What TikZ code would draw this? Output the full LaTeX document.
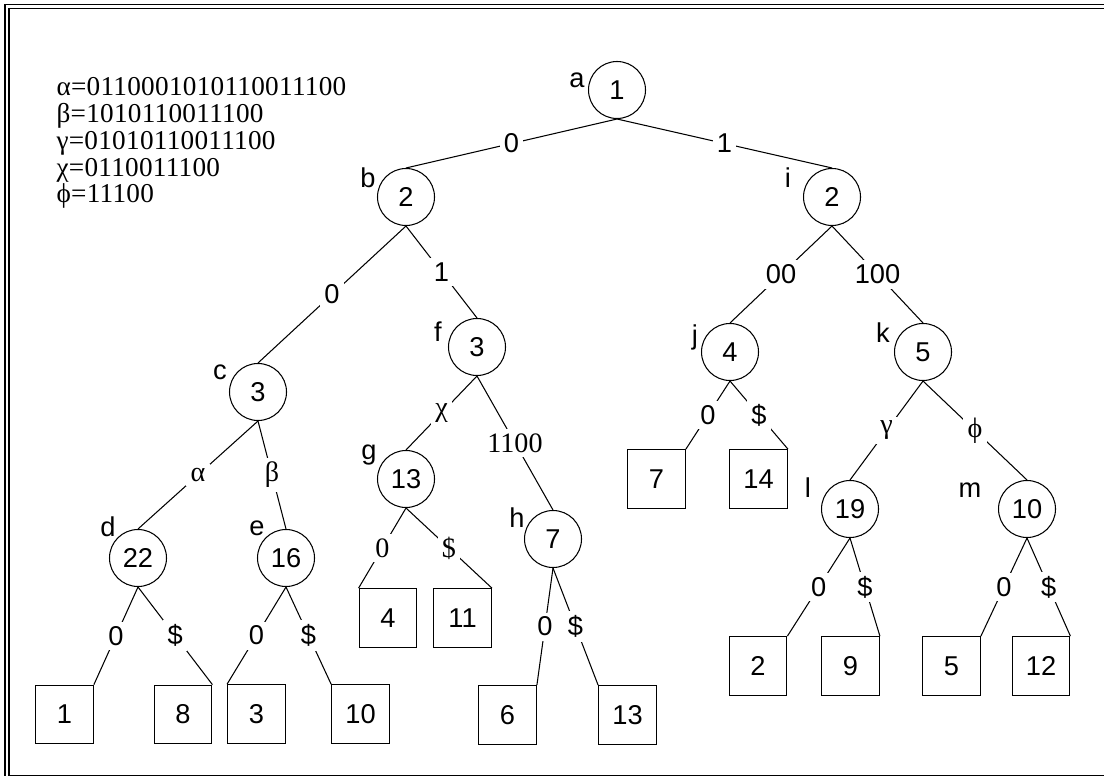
\documentclass[tikz,border=0pt]{standalone}
\usepackage{fontspec}
\newfontfamily\treefont{Liberation Sans}
\newfontfamily\serfont{Liberation Serif}
\newfontfamily\legendfont[LetterSpace=1]{Liberation Serif}

\tikzset{
  inner/.style={circle, draw, line width=0.6pt, minimum size=1.14cm, inner sep=0pt,
    font=\treefont\fontsize{15.5}{18}\selectfont},
  suf/.style={rectangle, draw, line width=0.75pt, minimum width=1.15cm, minimum height=1.17cm,
    inner sep=0pt, font=\treefont\fontsize{15.5}{18}\selectfont},
  tag/.style={inner sep=0pt, font=\treefont\fontsize{15.5}{18}\selectfont},
  lbl/.style={fill=white, inner sep=2.5pt, font=\treefont\fontsize{15.5}{18}\selectfont},
  slbl/.style={lbl, font=\serfont\fontsize{16}{18}\selectfont},
  leg/.style={anchor=base west, inner sep=0pt, font=\legendfont\fontsize{15.5}{17}\selectfont}
}

\begin{document}
\begin{tikzpicture}[x=0.02cm, y=-0.02cm, line width=0.6pt]
      \useasboundingbox (0,0) rectangle (1104,776);
      % frame
      \draw [line width=1.1pt] (5,4.5) rectangle (1120,800);
      \draw [line width=0.9pt] (9,8.5) rectangle (1112,775.5);
      % legend
      \node (legA) [leg] at (56,96) {α=0110001010110011100};
      \node (legB) [leg] at (56,123) {β=1010110011100};
      \node (legC) [leg] at (56,150) {γ=01010110011100};
      \node (legD) [leg] at (56,177) {χ=0110011100};
      \node (legE) [leg] at (56,203) {ϕ=11100};
      % internal nodes
      \node (a) [inner] at (617,90) {1};
      \node (b) [inner] at (406,197) {2};
      \node (i) [inner] at (832,197) {2};
      \node (c) [inner] at (258,392) {3};
      \node (f) [inner] at (477,347) {3};
      \node (d) [inner] at (138,558) {22};
      \node (e) [inner] at (286,558) {16};
      \node (g) [inner] at (406,479) {13};
      \node (h) [inner] at (553,539) {7};
      \node (j) [inner] at (730,352) {4};
      \node (k) [inner] at (923,352) {5};
      \node (l) [inner] at (850,509) {19};
      \node (m) [inner] at (1027,509) {10};
      % node names
      \node (ta) [tag] at (577,80) {a};
      \node (tb) [tag] at (368,178) {b};
      \node (tc) [tag] at (220,372) {c};
      \node (td) [tag] at (108,527) {d};
      \node (te) [tag] at (257,528) {e};
      \node (tf) [tag] at (438,332) {f};
      \node (tg) [tag] at (369,455) {g};
      \node (th) [tag] at (517,518) {h};
      \node (ti) [tag] at (788,178) {i};
      \node (tj) [tag] at (695,337) {j};
      \node (tk) [tag] at (883,333) {k};
      \node (tl) [tag] at (808,488) {l};
      \node (tm) [tag] at (970,490) {m};
      % leaves
      \node (L1) [suf] at (64.5,714.5) {1};
      \node (L8) [suf] at (183,714.5) {8};
      \node (L3) [suf] at (256.5,714) {3};
      \node (L10) [suf] at (360.5,714) {10};
      \node (L4) [suf] at (388,618) {4};
      \node (L11) [suf] at (462.5,618) {11};
      \node (L6) [suf] at (507.5,715) {6};
      \node (L13) [suf] at (627.5,715) {13};
      \node (L7) [suf] at (656.5,479) {7};
      \node (L14) [suf] at (758.5,479) {14};
      \node (L2) [suf] at (758,666) {2};
      \node (L9) [suf] at (850.5,666) {9};
      \node (L5) [suf] at (951.5,666) {5};
      \node (L12) [suf] at (1041,666) {12};
      % edges
      \draw [-] (a.south) to node [lbl] {0} (b.north);
      \draw [-] (a.south) to node [lbl] {1} (i.north);
      \draw [-] (b.south) to node [lbl] {0} (c.north);
      \draw [-] (b.south) to node [lbl] {1} (f.north);
      \draw [-] (c.south) to node [slbl] {α} (d.north);
      \draw [-] (c.south) to node [slbl] {β} (e.north);
      \draw [-] (f.south) to node [slbl] {χ} (g.north);
      \draw [-] (f.south) to node [slbl] {1100} (h.north);
      \draw [-] (i.south) to node [lbl] {00} (j.north);
      \draw [-] (i.south) to node [lbl] {100} (k.north);
      \draw [-] (k.south) to node [slbl] {γ} (l.north);
      \draw [-] (k.south) to node [slbl] {ϕ} (m.north);
      \draw [-] (d.south) to node [lbl] {0} (L1.north east);
      \draw [-] (d.south) to node [lbl] {\$} (L8.north east);
      \draw [-] (e.south) to node [lbl] {0} (L3.north west);
      \draw [-] (e.south) to node [lbl] {\$} (L10.north west);
      \draw [-] (g.south) to node [slbl] {0} (L4.north west);
      \draw [-] (g.south) to node [slbl] {\$} (L11.north east);
      \draw [-] (h.south) to node [lbl] {0} (L6.north east);
      \draw [-] (h.south) to node [lbl] {\$} (L13.north west);
      \draw [-] (j.south) to node [lbl] {0} (L7.north east);
      \draw [-] (j.south) to node [lbl] {\$} (L14.north east);
      \draw [-] (l.south) to node [lbl] {0} (L2.north east);
      \draw [-] (l.south) to node [lbl] {\$} (L9.north east);
      \draw [-] (m.south) to node [lbl] {0} (L5.north east);
      \draw [-] (m.south) to node [lbl] {\$} (L12.north east);
\end{tikzpicture}
\end{document}
